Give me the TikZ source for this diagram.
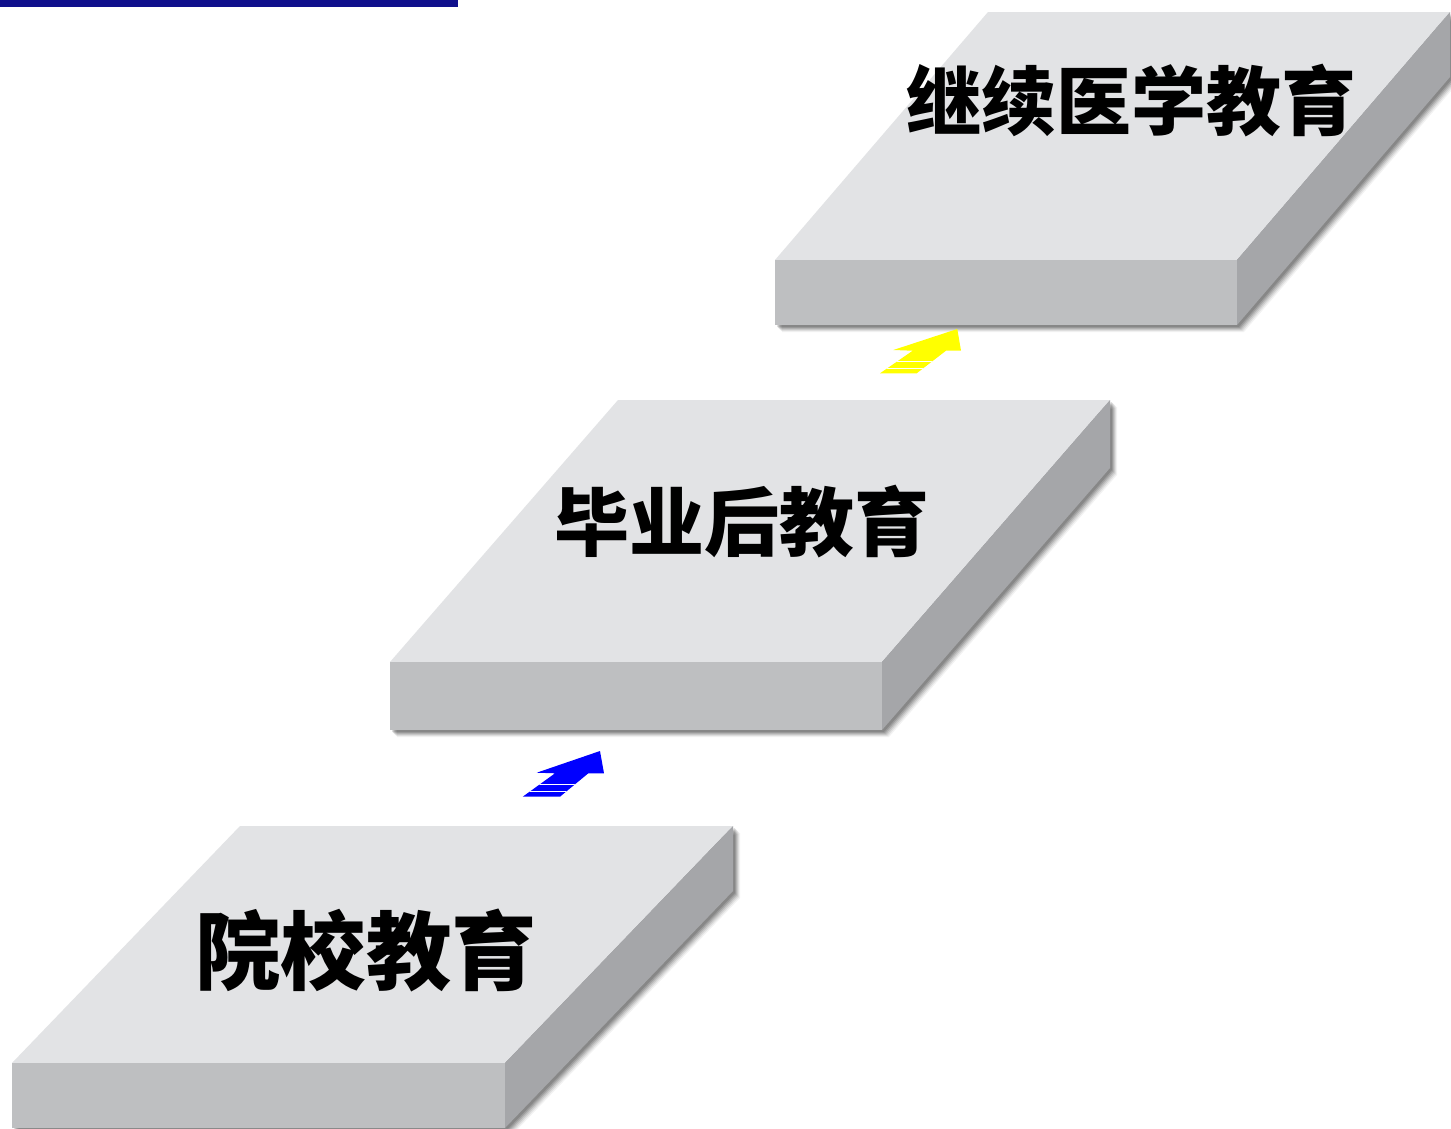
\documentclass[tikz,border=0pt]{standalone}
\usepackage{fontspec}
\newfontfamily\cjk{Noto Sans CJK SC}
\definecolor{topface}{HTML}{E2E3E5}
\definecolor{frontface}{HTML}{BEBFC1}
\definecolor{sideface}{HTML}{A5A6A9}
\definecolor{barblue}{HTML}{10108C}
\definecolor{arrblue}{HTML}{0000FF}
\definecolor{arryellow}{HTML}{FFFF00}
\newcommand\slabbox[6]{%
  % #1 x1, #2 x2, #3 yTop (front), #4 h, #5 dx, #6 dy
  \pgfmathsetmacro\xa{#1}\pgfmathsetmacro\xb{#2}\pgfmathsetmacro\yt{#3}
  \pgfmathsetmacro\hh{#4}\pgfmathsetmacro\ddx{#5}\pgfmathsetmacro\ddy{#6}
  \pgfmathsetmacro\yb{\yt+\hh}\pgfmathsetmacro\xc{\xb+\ddx}\pgfmathsetmacro\yc{\yt-\ddy}
  \pgfmathsetmacro\xd{\xa+\ddx}\pgfmathsetmacro\ycb{\yc+\hh}
  \foreach \o/\op in {7/0.05,6/0.07,5/0.09,4/0.11,3/0.13,2/0.13}{
    \fill[black,opacity=\op] (\xa+\o,\yt+\o) -- (\xc+\o,\yc+\o) -- (\xc+\o,\ycb+\o) -- (\xb+\o,\yb+\o) -- (\xa+\o,\yb+\o) -- cycle;
  }
  \fill[topface] (\xa,\yt) -- (\xb,\yt) -- (\xc,\yc) -- (\xd,\yc) -- cycle;
  \fill[frontface] (\xa,\yt) rectangle (\xb,\yb);
  \fill[sideface] (\xb,\yt) -- (\xc,\yc) -- (\xc,\ycb) -- (\xb,\yb) -- cycle;
}
\tikzset{
  steplabel/.style={font=\cjk\bfseries, text=black, inner sep=0pt, anchor=center},
}
\begin{document}
\begin{tikzpicture}[x=1pt,y=-1pt]
\useasboundingbox (0,0) rectangle (1451,1128);
\fill[white] (0,0) rectangle (1451,1128);
% top bar
\fill[barblue] (0,0) rectangle (458,7);
% slabs
\slabbox{775}{1237}{260}{65}{213}{248}
\slabbox{390}{882}{662}{68}{228}{262}
\slabbox{12}{505}{1063}{65}{228}{237}
% labels
\node[steplabel, font=\cjk\bfseries\fontsize{75}{80}\selectfont] (cme) at (1131,101) {继续医学教育};
\node[steplabel, font=\cjk\bfseries\fontsize{75}{80}\selectfont] (pge) at (742,522) {毕业后教育};
\node[steplabel, font=\cjk\bfseries\fontsize{85.5}{90}\selectfont] (sch) at (366,950) {院校教育};
% blue striped arrow
\fill[arrblue] (536.7,772.7) -- (600,751) -- (604,773.3) -- (588.3,773.3) -- (560,796.7) -- (522.7,796.7) -- (555,773.3) -- cycle;
\begin{scope}
  \clip (555,773.3) -- (588.3,773.3) -- (560,796.7) -- (522.7,796.7) -- cycle;
  \fill[white] (500,783.6) rectangle (620,785.0);
  \fill[white] (500,791.0) rectangle (620,792.4);
\end{scope}
% yellow striped arrow
\fill[arryellow] (893.3,350) -- (957.3,329) -- (961,350.7) -- (946,350.7) -- (916.7,373.3) -- (880,373.3) -- (912.7,350.7) -- cycle;
\begin{scope}
  \clip (912.7,350.7) -- (946,350.7) -- (916.7,373.3) -- (880,373.3) -- cycle;
  \fill[white] (860,361.0) rectangle (980,362.4);
  \fill[white] (860,367.6) rectangle (980,369.0);
\end{scope}
\end{tikzpicture}
\end{document}
